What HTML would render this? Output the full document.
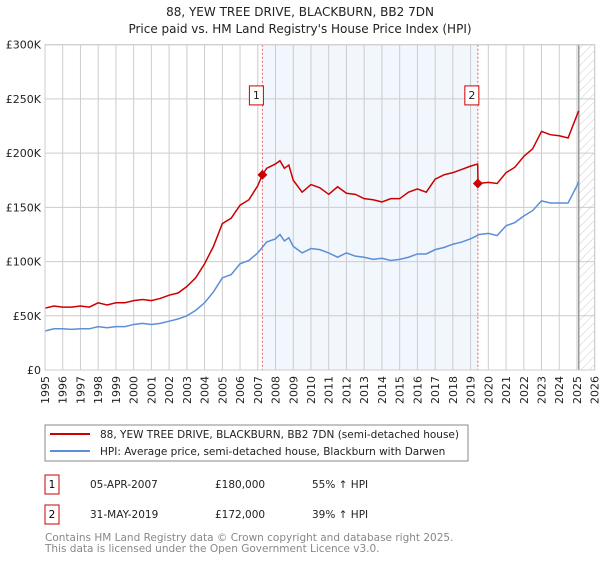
<!DOCTYPE html>
<html><head><meta charset="utf-8"><style>
body{margin:0;background:#fff;font-family:"DejaVu Sans","Liberation Sans",sans-serif;}
svg text{font-family:"DejaVu Sans","Liberation Sans",sans-serif;}
</style></head><body>
<svg id="c" width="600" height="560" xmlns="http://www.w3.org/2000/svg">
<defs><pattern id="hatch" width="6" height="6" patternUnits="userSpaceOnUse" patternTransform="rotate(45)"><line x1="0" y1="0" x2="0" y2="6" stroke="#ccc" stroke-width="1"/></pattern></defs>
<text x="300" y="16" text-anchor="middle" font-size="12" fill="#222">88, YEW TREE DRIVE, BLACKBURN, BB2 7DN</text>
<text x="300" y="33" text-anchor="middle" font-size="12" fill="#222">Price paid vs. HM Land Registry's House Price Index (HPI)</text>
<g id="plot"></g>
<rect x="45" y="425" width="423" height="36" fill="#fff" stroke="#888"/>
<line x1="50" y1="434" x2="90" y2="434" stroke="#cc0000" stroke-width="2"/>
<text x="100" y="438" font-size="10.5" fill="#222">88, YEW TREE DRIVE, BLACKBURN, BB2 7DN (semi-detached house)</text>
<line x1="50" y1="451" x2="90" y2="451" stroke="#5b8fd6" stroke-width="2"/>
<text x="100" y="455" font-size="10.5" fill="#222">HPI: Average price, semi-detached house, Blackburn with Darwen</text>
<g>
<rect x="45" y="475" width="14" height="19" fill="#fff" stroke="#cc0000"/><text x="52" y="488" text-anchor="middle" font-size="10.5">1</text>
<text x="90" y="488" font-size="10.5" fill="#222">05-APR-2007</text><text x="215" y="488" font-size="10.5" fill="#222">£180,000</text><text x="312" y="488" font-size="10.5" fill="#222">55% ↑ HPI</text></g>
<g>
<rect x="45" y="505" width="14" height="19" fill="#fff" stroke="#cc0000"/><text x="52" y="518" text-anchor="middle" font-size="10.5">2</text>
<text x="90" y="518" font-size="10.5" fill="#222">31-MAY-2019</text><text x="215" y="518" font-size="10.5" fill="#222">£172,000</text><text x="312" y="518" font-size="10.5" fill="#222">39% ↑ HPI</text></g>
<text x="45" y="541" font-size="10.5" fill="#888">Contains HM Land Registry data © Crown copyright and database right 2025.</text>
<text x="45" y="552" font-size="10.5" fill="#888">This data is licensed under the Open Government Licence v3.0.</text>
</svg>
<script>
const hpiYears=[1995,1995.5,1996,1996.5,1997,1997.5,1998,1998.5,1999,1999.5,2000,2000.5,2001,2001.5,2002,2002.5,2003,2003.5,2004,2004.5,2005,2005.5,2006,2006.5,2007,2007.5,2008,2008.25,2008.5,2008.75,2009,2009.5,2010,2010.5,2011,2011.5,2012,2012.5,2013,2013.5,2014,2014.5,2015,2015.5,2016,2016.5,2017,2017.5,2018,2018.5,2019,2019.5,2020,2020.5,2021,2021.5,2022,2022.5,2023,2023.5,2024,2024.5,2025,2025.1];
const hpiValues=[36,38,38,37.5,38,38,40,39,40,40,42,43,42,43,45,47,50,55,62,72,85,88,98,101,108,118,121,125,119,122,114,108,112,111,108,104,108,105,104,102,103,101,102,104,107,107,111,113,116,118,121,125,126,124,133,136,142,147,156,154,154,154,170,174];
const propYears=[1995,1995.5,1996,1996.5,1997,1997.5,1998,1998.5,1999,1999.5,2000,2000.5,2001,2001.5,2002,2002.5,2003,2003.5,2004,2004.5,2005,2005.5,2006,2006.5,2007,2007.26,2007.5,2008,2008.25,2008.5,2008.75,2009,2009.5,2010,2010.5,2011,2011.5,2012,2012.5,2013,2013.5,2014,2014.5,2015,2015.5,2016,2016.5,2017,2017.5,2018,2018.5,2019,2019.4,2019.42,2020,2020.5,2021,2021.5,2022,2022.5,2023,2023.5,2024,2024.5,2025,2025.1];
const propValues=[57,59,58,58,59,58,62,60,62,62,64,65,64,66,69,71,77,85,98,114,135,140,152,157,170,180,186,190,193,186,189,175,164,171,168,162,169,163,162,158,157,155,158,158,164,167,164,176,180,182,185,188,190,172,173,172,182,187,197,204,220,217,216,214,235,239];
const saleYears=[2007.26,2019.41];
const saleValues=[180,172];
const saleLabels=["1","2"];
const yTicks=[0,50,100,150,200,250,300];
const yTickLabels=["£0","£50K","£100K","£150K","£200K","£250K","£300K"];
const xTicks=[1995,1996,1997,1998,1999,2000,2001,2002,2003,2004,2005,2006,2007,2008,2009,2010,2011,2012,2013,2014,2015,2016,2017,2018,2019,2020,2021,2022,2023,2024,2025,2026];
const X0=45,X1=594.7,Y0=370,Y1=44.7;
const xs=v=>X0+(v-1995)/(2026-1995)*(X1-X0);
const ys=v=>Y0-v/300*(Y0-Y1);
const NS="http://www.w3.org/2000/svg";
const g=document.getElementById('plot');
function mk(t,a){const e=document.createElementNS(NS,t);for(const k in a)e.setAttribute(k,a[k]);g.appendChild(e);return e;}
const span=mk('rect',{x:xs(saleYears[0]),y:Y1,width:xs(saleYears[1])-xs(saleYears[0]),height:Y0-Y1,fill:'#eef3fc',opacity:0.75});


const hat=mk('rect',{x:xs(2025.1),y:Y1,width:X1-xs(2025.1),height:Y0-Y1,fill:'url(#hatch)'});


xTicks.forEach((t,i)=>{
 const l=mk('line',{x1:xs(t),x2:xs(t),y1:Y1,y2:Y0,stroke:'#ccc'});
 
 
 const tx=mk('text',{x:0,y:0,'font-size':11,fill:'#222','text-anchor':'end',transform:`translate(${xs(t)+4},${Y0+6}) rotate(-90)`});
 tx.textContent=t;
 
 
});
yTicks.forEach((t,i)=>{
 const l=mk('line',{x1:X0,x2:X1,y1:ys(t),y2:ys(t),stroke:'#ccc'});
 
 
 const tx=mk('text',{x:X0-4,y:ys(t)+4,'font-size':11,fill:'#222','text-anchor':'end'});
 tx.textContent=yTickLabels[i];
 
 
});
const fl=mk('line',{x1:xs(2025.1),x2:xs(2025.1),y1:Y1,y2:Y0,stroke:'#999','stroke-width':1.5});


saleYears.forEach((s,i)=>{
 const l=mk('line',{x1:xs(s),x2:xs(s),y1:Y1,y2:Y0,stroke:'#f06060','stroke-dasharray':'2,2'});
 
 
});
const hp=mk('polyline',{points:hpiYears.map((y,i)=>xs(y)+','+ys(hpiValues[i])).join(' '),fill:'none',stroke:'#5b8fd6','stroke-width':1.5});


const pp=mk('polyline',{points:propYears.map((y,i)=>xs(y)+','+ys(propValues[i])).join(' '),fill:'none',stroke:'#cc0000','stroke-width':1.5});


saleYears.forEach((s,i)=>{
 const d=mk('rect',{x:xs(s)-3.5,y:ys(saleValues[i])-3.5,width:7,height:7,fill:'#cc0000',transform:`rotate(45 ${xs(s)} ${ys(saleValues[i])})`});
 
 
 const bx=mk('rect',{x:xs(s)-13,y:ys(250)-13,width:14,height:19,fill:'#fff',stroke:'#cc0000'});
 
 
 const t=mk('text',{x:xs(s)-6,y:ys(250)+0,'font-size':11,'text-anchor':'middle',fill:'#222'});
 t.textContent=saleLabels[i];
 
 
});
const fr=mk('rect',{x:X0,y:Y1,width:X1-X0,height:Y0-Y1,fill:'none',stroke:'#ccc'});


</script>
</body></html>
